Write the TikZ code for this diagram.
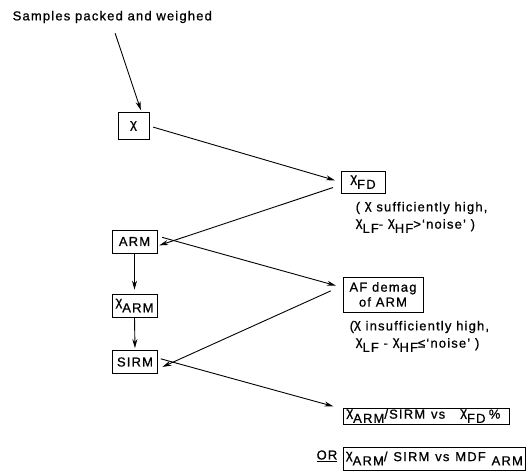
\documentclass[tikz,border=0pt]{standalone}
\usepackage{fontspec}
\setmainfont{Liberation Sans}[LetterSpace=9, FakeBold=0.8]
\usetikzlibrary{arrows.meta}
\newcommand{\lowsub}[1]{\raisebox{-0.32em}{#1}}
\newcommand{\chisym}{\raisebox{0.18em}{χ}}
\begin{document}
\begin{tikzpicture}[x=1pt,y=-1pt,
  every node/.style={font=\fontsize{13}{15}\selectfont, inner sep=1.5pt},
  box/.style={draw, line width=0.7pt, inner sep=2pt},
  vbox/.style={box, minimum width=45pt, minimum height=23pt},
  arr/.style={-{Stealth[length=9pt,width=5pt]}, line width=0.9pt}]
\useasboundingbox (0,0) rectangle (529,472);
\node[anchor=west] (title) at (11,17) {Samples packed and weighed};
\node[box, minimum width=31pt, minimum height=27pt] (x) at (133.5,126) {\chisym};
\node[box, minimum width=44pt, minimum height=22pt] (xfd) at (363,182) {\chisym\lowsub{FD}};
\node[anchor=west] (n1) at (354,208) {( \chisym\ sufficiently high,};
\node[anchor=west] (n2) at (354,226) {\chisym\lowsub{LF}- \chisym\lowsub{HF}>‘noise’ )};
\node[vbox] (arm) at (134.5,241.5) {ARM};
\node[vbox] (xarm) at (134.5,305.5) {\chisym\lowsub{ARM}};
\node[vbox] (sirm) at (135,362) {SIRM};
\node[box, align=center, minimum width=80pt, minimum height=35pt, inner sep=1pt] (af) at (383,294.5) {AF demag\\of ARM};
\node[anchor=west] (n3) at (348,327) {(\chisym\ insufficiently high,};
\node[anchor=west] (n4) at (354,345) {\chisym\lowsub{LF} - \chisym\lowsub{HF}≤‘noise’ )};
\node[box, anchor=west, minimum height=16pt, inner ysep=0.5pt, inner xsep=3pt] (r1) at (343,416) {\makebox[160pt][s]{\chisym\lowsub{ARM}/SIRM\hspace{0.45em}vs\hfill\chisym\lowsub{FD}\hspace{0.25em}\%\hspace{6pt}}};
\node[box, anchor=west, minimum height=23pt, inner xsep=2.5pt] (r2) at (343,458.5) {\makebox[177pt][s]{\chisym\lowsub{ARM}/ SIRM vs MDF \lowsub{ARM}}};
\node[anchor=east] (or) at (339,456) {\underline{OR}};
% connectors
\draw[arr, shorten <=9pt, shorten >=2pt] (title.south) -- ([xshift=8pt]x.north);
\draw[arr, shorten <=4pt, shorten >=6pt] (x.east) -- (xfd.west);
\draw[arr, shorten <=8pt, shorten >=2pt] ([yshift=-3pt]xfd.west) -- ([yshift=-4.5pt]arm.east);
\draw[arr, shorten <=5pt, shorten >=7pt] ([yshift=5.5pt]arm.east) -- ([yshift=7pt]af.west);
\draw[arr, shorten <=13pt, shorten >=5pt] ([yshift=9pt]af.west) -- ([yshift=-7pt]sirm.east);
\draw[arr, shorten >=4pt] (arm.south) -- (xarm.north);
\draw[arr, shorten >=2pt] (xarm.south) -- (sirm.north);
\draw[arr, shorten <=3pt, shorten >=10pt] ([yshift=4pt]sirm.east) -- ([yshift=7pt]r1.west);
\end{tikzpicture}
\end{document}
